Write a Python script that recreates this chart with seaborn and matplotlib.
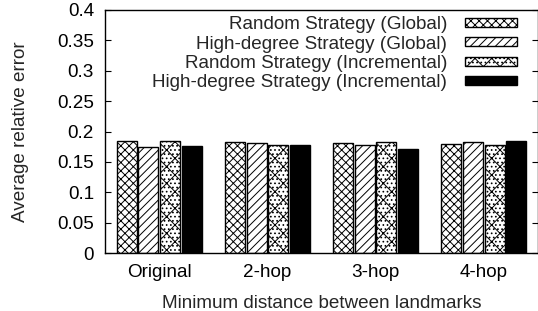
import numpy as np
import pandas as pd
import seaborn as sns
import matplotlib
matplotlib.use("Agg")
import matplotlib.pyplot as plt
from matplotlib.patches import Patch
from matplotlib.ticker import MultipleLocator, FormatStrFormatter

categories = ["Original", "2-hop", "3-hop", "4-hop"]
series_names = [
    "Random Strategy (Global)",
    "High-degree Strategy (Global)",
    "Random Strategy (Incremental)",
    "High-degree Strategy (Incremental)",
]
random_global = [0.185, 0.183, 0.181, 0.180]
highdeg_global = [0.175, 0.181, 0.178, 0.182]
random_incr = [0.184, 0.178, 0.183, 0.178]
highdeg_incr = [0.176, 0.178, 0.171, 0.184]

values = [random_global, highdeg_global, random_incr, highdeg_incr]
rows = []
for name, vals in zip(series_names, values):
    for c, v in zip(categories, vals):
        rows.append({"category": c, "series": name, "value": v})
df = pd.DataFrame(rows)

sns.set_theme(style="ticks")
plt.rcParams["font.family"] = ["Liberation Sans", "DejaVu Sans"]
plt.rcParams["hatch.linewidth"] = 0.7
FS = 13.6

fig = plt.figure(figsize=(5.38, 3.11), dpi=100)
ax = fig.add_axes([105 / 538, 1 - 253 / 311, 433 / 538, 243 / 311])

palette = ["white", "white", "white", "black"]
sns.barplot(data=df, x="category", y="value", hue="series", order=categories,
            hue_order=series_names, palette=palette, gap=0.075, width=0.8,
            edgecolor="black", linewidth=1.0, legend=False, ax=ax, saturation=1)

hatches = ["xxxx", "////", "xx....", None]
n = len(categories)
for i, p in enumerate(ax.patches[: 4 * n]):
    h = hatches[i // n]
    if h:
        p.set_hatch(h)

ax.set_xlim(-0.5, 3.5)
ax.set_ylim(0, 0.4)
ax.yaxis.set_major_locator(MultipleLocator(0.05))
ax.yaxis.set_major_formatter(FormatStrFormatter("%g"))
ax.tick_params(axis="y", direction="in", length=4, width=0.8, right=True,
               labelsize=FS, pad=8, colors="black")
ax.tick_params(axis="x", length=0, labelsize=FS, pad=8, colors="black")
for s in ax.spines.values():
    s.set_visible(True)
    s.set_linewidth(1.0)
    s.set_color("black")

ax.set_xlabel("Minimum distance between landmarks", fontsize=FS, labelpad=10)
ax.set_ylabel("Average relative error", fontsize=FS, labelpad=20)

handles = []
for i, name in enumerate(series_names):
    handles.append(Patch(facecolor=palette[i], edgecolor="black",
                         hatch=hatches[i], linewidth=1.0, label=name))
leg = ax.legend(handles=handles, loc="upper right", frameon=False,
                markerfirst=False, fontsize=FS, handlelength=2.75,
                handleheight=0.35, handletextpad=0.96, labelspacing=0.13,
                borderpad=0, borderaxespad=0,
                bbox_to_anchor=(412 / 433, 0.975))

fig.savefig("out.png", dpi=100)
